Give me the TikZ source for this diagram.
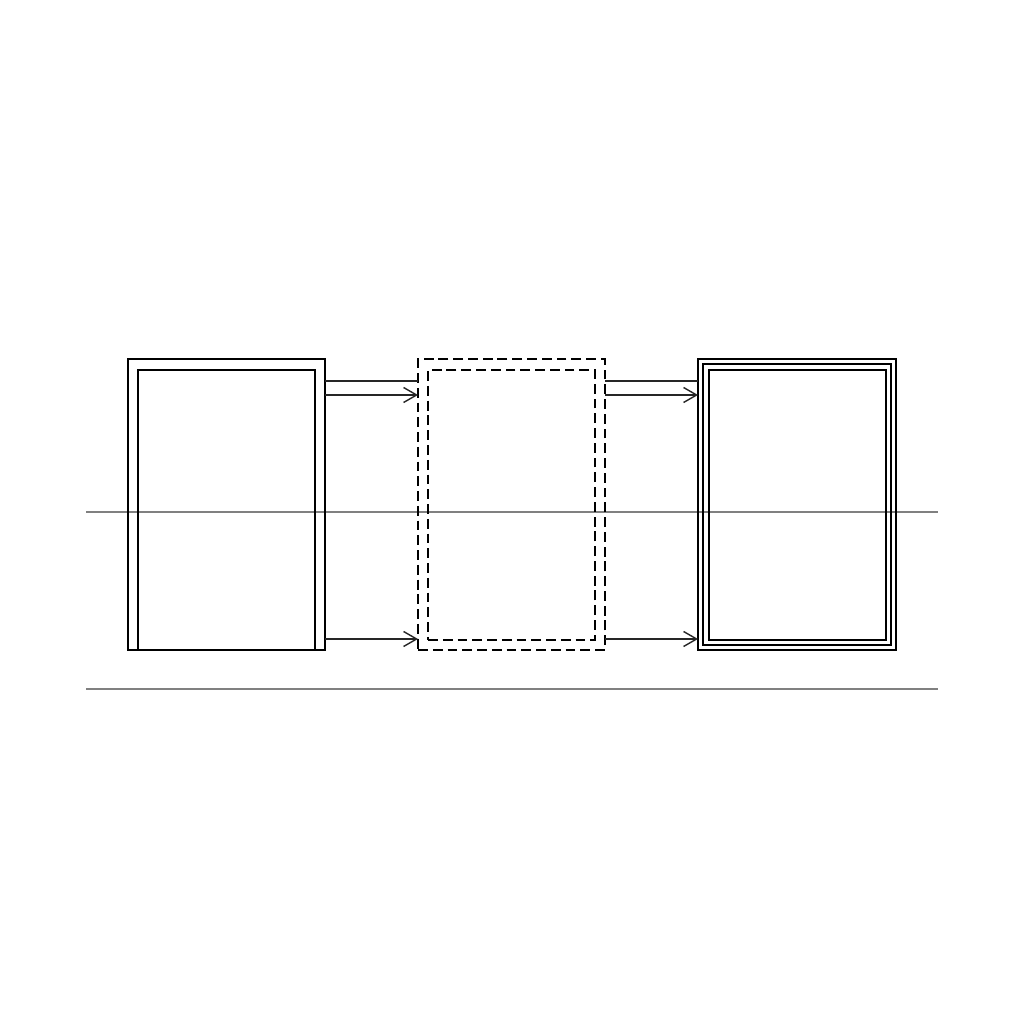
\documentclass[tikz,border=0pt]{standalone}
\usepackage{tikz}
\usetikzlibrary{arrows.meta}

\begin{document}
\begin{tikzpicture}[x=1cm,y=1cm]

	\tikzstyle box lines=[draw, line width=0.7pt, inner sep=0pt, outer sep=0pt, minimum height=2.91cm];
	\tikzstyle flow lines=[line width=0.4pt, black!85];
	\tikzstyle axis lines=[line width=0.35pt, black!50];
	\tikzstyle stage dashes=[dash pattern=on 2.8pt off 1.4pt];

	\fill[white] (0,0) rectangle (10.24,10.24);
	\useasboundingbox (0,0) rectangle (10.24,10.24);

	\coordinate (top level) at (0,6.43);
	\coordinate (upper level) at (0,6.29);
	\coordinate (lower level) at (0,3.85);

	\draw[axis lines] (0.86,5.12) -- (9.38,5.12);
	\draw[axis lines] (0.86,3.35) -- (9.38,3.35);

	\node[box lines, minimum width=1.97cm] (source) at (2.265,5.195) {};
	\draw[line width=0.7pt] ([xshift=1mm]source.south west) |- ([xshift=-1mm,yshift=-1.1mm]source.north east) -- ([xshift=-1mm]source.south east);

	\node[box lines, stage dashes, minimum width=1.87cm] (stage) at (5.115,5.195) {};
	\node[box lines, stage dashes, minimum width=1.67cm, minimum height=2.70cm] (stage inner) at (5.115,5.19) {};

	\node[box lines, minimum width=1.98cm] (target) at (7.97,5.195) {};
	\node[box lines, minimum width=1.88cm, minimum height=2.81cm] (target mid) at (7.97,5.195) {};
	\node[box lines, minimum width=1.77cm, minimum height=2.70cm] (target inner) at (7.975,5.19) {};

	\foreach \a/\b in {source/stage,stage/target}
	{
		\draw[flow lines] (\a.east |- top level) -- (\b.west |- top level);
		\foreach \lvl in {upper level,lower level}
			\draw[flow lines, -{Straight Barb[length=1.3mm,width=1.5mm]}] (\a.east |- \lvl) -- (\b.west |- \lvl);
	}

\end{tikzpicture}
\end{document}
